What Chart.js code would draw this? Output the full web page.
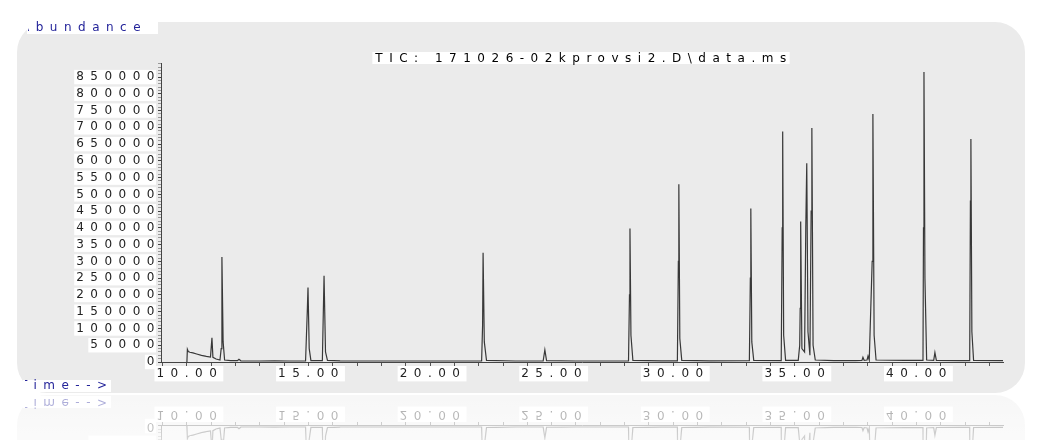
<!DOCTYPE html>
<html>
<head>
<meta charset="utf-8">
<title>TIC chromatogram</title>
<script src="https://cdn.jsdelivr.net/npm/chart.js@4.4.0/dist/chart.umd.min.js"></script>
<style>
  html, body { margin: 0; padding: 0; background: #fff; overflow: hidden; }
  #tic { display: block; }
</style>
</head>
<body>
<canvas id="tic" width="1037" height="440"></canvas>
<script>
// retention time (min) and abundance
const traceTime = [
  10.00, 10.02, 10.06, 10.12, 10.25, 10.40, 10.60, 10.80, 10.97, 11.03, 11.07,
  11.20, 11.36, 11.41, 11.44, 11.49, 11.55, 11.80, 12.08, 12.14, 12.22, 13.00,
  13.60, 14.20, 14.88, 14.95, 14.98, 15.03, 15.10, 15.57, 15.64, 15.70, 15.78,
  16.30, 17.20, 18.50, 20.00, 21.50, 22.12, 22.16, 22.18, 22.23, 22.32, 23.50,
  24.65, 24.72, 24.79, 26.00, 27.50, 28.16, 28.20, 28.22, 28.26, 28.34, 29.50,
  30.17, 30.21, 30.23, 30.27, 30.35, 31.50, 33.13, 33.17, 33.19, 33.23, 33.31,
  34.44, 34.48, 34.50, 34.54, 34.62, 35.14, 35.20, 35.22, 35.24, 35.29, 35.40,
  35.45, 35.49, 35.54, 35.62, 35.67, 35.70, 35.75, 35.84, 36.60, 37.50, 37.76,
  37.80, 37.85, 37.97, 38.01, 38.06, 38.18, 38.21, 38.26, 38.34, 39.50, 40.27,
  40.29, 40.31, 40.35, 40.42, 40.71, 40.76, 40.82, 41.80, 42.19, 42.22, 42.24,
  42.28, 42.35, 43.56
];
const traceAbundance = [
  0, 38000, 31000, 29000, 27000, 24000, 20000, 17000, 15000, 72000, 14000,
  9000, 6000, 40000, 313000, 60000, 6000, 4000, 4000, 8000, 3500, 3000,
  3500, 3000, 3000, 150000, 222000, 40000, 4000, 4000, 257000, 30000, 5000,
  3500, 3000, 3000, 3000, 3000, 3000, 110000, 326000, 60000, 5000, 3000,
  3000, 36000, 4000, 3000, 3000, 3000, 200000, 398000, 80000, 5000, 3500,
  3500, 300000, 530000, 70000, 5000, 3500, 4000, 250000, 458000, 60000, 5000,
  4000, 400000, 688000, 80000, 5000, 5000, 50000, 160000, 419000, 40000, 30000,
  400000, 593000, 90000, 20000, 450000, 698000, 50000, 6000, 4000, 4000, 5000,
  14000, 5000, 6000, 18000, 6000, 300000, 740000, 80000, 6000, 5000, 5000,
  400000, 865000, 250000, 6000, 5000, 28000, 5000, 4000, 4000, 480000, 665000,
  90000, 5000, 4000
];

// labelled ticks
const timeLabelValues = [10, 15, 20, 25, 30, 35, 40];
const abundanceLabelValues = [0, 50000, 100000, 150000, 200000, 250000, 300000, 350000,
  400000, 450000, 500000, 550000, 600000, 650000, 700000, 750000, 800000, 850000];

const titleText = 'TIC: 171026-02kprovsi2.D\\data.ms';
const yTitleText = 'Abundance';
const xTitleText = 'Time-->';

const SPACING = '6.5px';
const FAMILY = '"DejaVu Sans", Verdana, sans-serif';
const FONT = '12px ' + FAMILY;

// minor tick marks: every minute / every 10000 counts
function minorTicks(from, to, step) {
    const out = [];
    for (let v = Math.ceil(from / step) * step; v <= to + 1e-9; v += step) {
        out.push({ value: Math.round(v * 1000) / 1000 });
    }
    return out;
}

const chemPlugin = {
    id: 'chemstation',
    beforeUpdate(chart) {
        chart.ctx.letterSpacing = SPACING;
    },
    beforeDraw(chart) {
        const ctx = chart.ctx;
        ctx.letterSpacing = SPACING;
        ctx.save();
        // grey rounded panel
        ctx.fillStyle = '#ebebeb';
        ctx.beginPath();
        ctx.roundRect(17, 22, 1008, 371, 30);
        ctx.fill();

        // title with white box
        ctx.font = FONT;
        ctx.textBaseline = 'middle';
        ctx.textAlign = 'left';
        const cx = (chart.chartArea.left + chart.chartArea.right) / 2;
        const tw = ctx.measureText(titleText).width;
        ctx.fillStyle = '#fff';
        ctx.fillRect(cx - tw / 2 - 1, 52, tw, 12);
        ctx.fillStyle = '#000';
        ctx.fillText(titleText, cx - tw / 2 + 2, 58.5);
        ctx.restore();
    },
    afterDraw(chart) {
        const ctx = chart.ctx;
        ctx.save();
        ctx.font = FONT;
        ctx.textBaseline = 'middle';
        ctx.textAlign = 'left';

        // Abundance label, cut at its box like the screenshot
        ctx.fillStyle = '#fff';
        ctx.fillRect(27, 22, 131, 12);
        ctx.save();
        ctx.beginPath();
        ctx.rect(28, 0, 200, 40);
        ctx.clip();
        ctx.fillStyle = '#24249a';
        ctx.fillText(yTitleText, 21, 28);
        ctx.restore();

        // Time--> label, also cut on the left
        ctx.fillStyle = '#fff';
        ctx.fillRect(23, 380, 88, 12);
        ctx.save();
        ctx.beginPath();
        ctx.rect(25, 370, 200, 30);
        ctx.clip();
        ctx.fillStyle = '#24249a';
        ctx.fillText(xTitleText, 20, 386);
        ctx.restore();
        ctx.restore();

        // mirrored reflection under the panel
        const mirror = 394;
        const w = chart.canvas.width;
        const h = chart.canvas.height - mirror;
        const off = document.createElement('canvas');
        off.width = w;
        off.height = h;
        off.getContext('2d').drawImage(chart.canvas, 0, mirror - h, w, h, 0, 0, w, h);
        ctx.save();
        ctx.fillStyle = '#fff';
        ctx.fillRect(0, mirror, w, h);
        ctx.globalAlpha = 0.45;
        ctx.translate(0, mirror * 2);
        ctx.scale(1, -1);
        ctx.drawImage(off, 0, mirror - h);
        ctx.restore();
        ctx.save();
        const fade = ctx.createLinearGradient(0, mirror, 0, mirror + h);
        fade.addColorStop(0, 'rgba(255,255,255,0.1)');
        fade.addColorStop(1, 'rgba(255,255,255,0.5)');
        ctx.fillStyle = fade;
        ctx.fillRect(0, mirror, w, h);
        ctx.restore();
    }
};

const tickFont = { family: FAMILY, size: 12 };

const ctx = document.getElementById('tic').getContext('2d');
const ticChart = new Chart(ctx, {
    type: 'line',
    data: {
        datasets: [{
            label: 'TIC',
            data: traceTime.map((t, i) => ({ x: t, y: traceAbundance[i] })),
            borderColor: '#383838',
            borderWidth: 1.2,
            pointRadius: 0,
            tension: 0,
            fill: false
        }]
    },
    options: {
        responsive: false,
        animation: false,
        devicePixelRatio: 1,
        layout: { padding: { top: 63, right: 34, left: 0, bottom: 0 } },
        plugins: {
            legend: { display: false },
            title: { display: false },
            tooltip: { enabled: false }
        },
        scales: {
            x: {
                type: 'linear',
                bounds: 'data',
                min: 8.935,
                max: 43.56,
                afterBuildTicks(scale) { scale.ticks = minorTicks(scale.min, scale.max, 1); },
                afterFit(scale) { scale.height = 78; },
                grid: {
                    drawOnChartArea: false,
                    tickLength: 4,
                    tickColor: '#555'
                },
                border: { color: '#444', width: 1 },
                ticks: {
                    autoSkip: false,
                    maxRotation: 0,
                    padding: 1,
                    labelOffset: 3,
                    color: '#222',
                    font: tickFont,
                    callback: (v) => timeLabelValues.includes(v) ? v.toFixed(2) : '',
                    showLabelBackdrop: (c) => timeLabelValues.includes(c.tick.value),
                    backdropColor: '#fff',
                    backdropPadding: { top: 1, bottom: 0, left: 2, right: 0 }
                }
            },
            y: {
                type: 'linear',
                bounds: 'data',
                min: 0,
                max: 892000,
                afterBuildTicks(scale) { scale.ticks = minorTicks(scale.min, scale.max, 10000); },
                afterFit(scale) { scale.width = 161; },
                grid: {
                    drawOnChartArea: false,
                    tickLength: 3,
                    tickColor: (c) => abundanceLabelValues.includes(c.tick.value) ? '#444' : '#999'
                },
                border: { color: '#444', width: 1 },
                ticks: {
                    autoSkip: false,
                    padding: -3,
                    color: '#222',
                    font: tickFont,
                    callback: (v) => abundanceLabelValues.includes(v) ? String(v) : '',
                    showLabelBackdrop: (c) => abundanceLabelValues.includes(c.tick.value),
                    backdropColor: '#fff',
                    backdropPadding: { top: 0, bottom: 0, left: 2, right: -5 }
                }
            }
        }
    },
    plugins: [chemPlugin]
});
</script>
</body>
</html>
